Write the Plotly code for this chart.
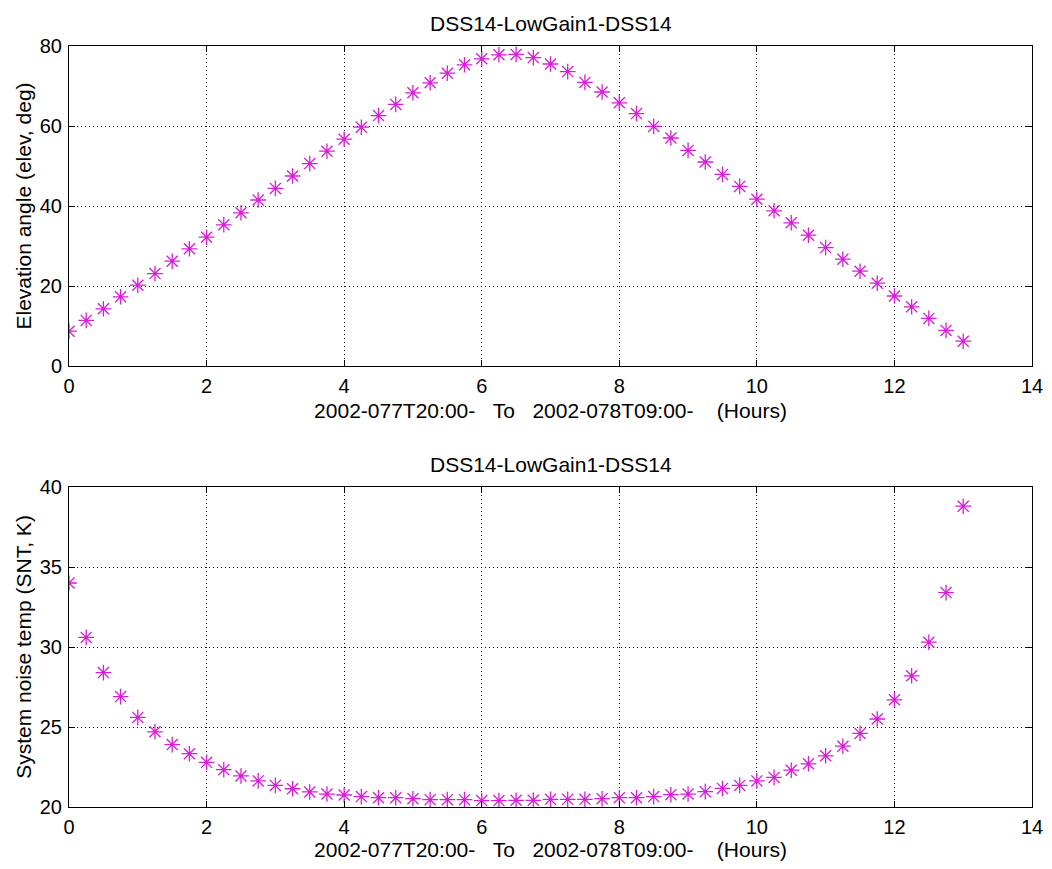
import plotly.graph_objects as go
from plotly.subplots import make_subplots

hours = [i * 0.25 for i in range(53)]

elevation_deg = [
    8.7, 11.4, 14.3, 17.3, 20.2, 23.1, 26.2, 29.3, 32.2, 35.3,
    38.3, 41.5, 44.4, 47.5, 50.6, 53.7, 56.7, 59.7, 62.6, 65.4,
    68.3, 70.8, 73.2, 75.3, 76.8, 77.8, 77.9, 77.1, 75.5, 73.6,
    70.9, 68.5, 65.8, 63.1, 59.9, 57.0, 53.9, 51.0, 47.9, 44.9,
    41.7, 38.8, 35.8, 32.7, 29.6, 26.7, 23.7, 20.7, 17.5, 14.8,
    11.9, 8.9, 6.2,
]

snt_k = [
    34.0, 30.6, 28.4, 26.9, 25.6, 24.7, 23.9, 23.33, 22.79, 22.33,
    21.94, 21.63, 21.35, 21.14, 20.94, 20.81, 20.75, 20.65, 20.58, 20.58,
    20.52, 20.46, 20.46, 20.46, 20.40, 20.40, 20.42, 20.42, 20.48, 20.48,
    20.48, 20.52, 20.58, 20.58, 20.65, 20.77, 20.81, 20.96, 21.16, 21.35,
    21.63, 21.85, 22.3, 22.7, 23.2, 23.8, 24.6, 25.5, 26.7, 28.2,
    30.3, 33.4, 38.8,
]

plot_title = "DSS14-LowGain1-DSS14"
nb = "\u00a0"
x_label = "2002-077T20:00-" + nb * 3 + "To" + nb * 3 + "2002-078T09:00-" + nb * 4 + "(Hours)"
y_label_top = "Elevation angle (elev, deg)"
y_label_bottom = "System noise temp (SNT, K)"

# page body has an 8px margin, so the figure is 16px smaller than the window
W, H = 1036, 853
FONT = "Liberation Sans, Arial, Helvetica, sans-serif"
MAG = "#d81ed8"
TXT = 21
TICK = 20

fig = make_subplots(rows=2, cols=1)

marker = dict(symbol="asterisk-open", size=13, color=MAG, line=dict(color=MAG, width=1.3))

fig.add_trace(go.Scatter(x=hours, y=elevation_deg, mode="markers", marker=marker,
                         showlegend=False), row=1, col=1)
fig.add_trace(go.Scatter(x=hours, y=snt_k, mode="markers", marker=marker,
                         showlegend=False), row=2, col=1)

axis_common = dict(
    showline=True, linecolor="black", linewidth=1, mirror="ticks",
    ticks="inside", ticklen=6, tickcolor="black", tickwidth=1,
    showgrid=True, gridcolor="black", gridwidth=1, griddash="1px,3px",
    zeroline=False, automargin=False,
    tickfont=dict(family=FONT, size=TICK, color="black"),
)

top_dom = [1 - 358 / H, 1 - 38 / H]
bot_dom = [1 - 799 / H, 1 - 479 / H]

fig.update_xaxes(**axis_common, range=[0, 14], dtick=2, tick0=0, ticklabelstandoff=2,
                 title=dict(text=x_label, font=dict(family=FONT, size=TXT, color="black"), standoff=7))
fig.update_yaxes(**axis_common, ticklabelstandoff=2,
                 title_font=dict(family=FONT, size=TXT, color="black"))
fig.update_yaxes(range=[0, 80], dtick=20, domain=top_dom, row=1, col=1,
                 title=dict(text=y_label_top, standoff=2))
fig.update_yaxes(range=[20, 40], dtick=5, domain=bot_dom, row=2, col=1,
                 title=dict(text=y_label_bottom, standoff=2))

fig.add_annotation(text=plot_title, xref="paper", yref="paper", x=0.5, y=1 - 15.5 / H,
                   showarrow=False, yanchor="middle",
                   font=dict(family=FONT, size=TXT, color="black"))
fig.add_annotation(text=plot_title, xref="paper", yref="paper", x=0.5, y=1 - 456.5 / H,
                   showarrow=False, yanchor="middle",
                   font=dict(family=FONT, size=TXT, color="black"))

fig.update_layout(
    width=W, height=H,
    margin=dict(l=61, r=12, t=0, b=0, autoexpand=False),
    paper_bgcolor="white", plot_bgcolor="white",
)

fig.write_html("out.html")
